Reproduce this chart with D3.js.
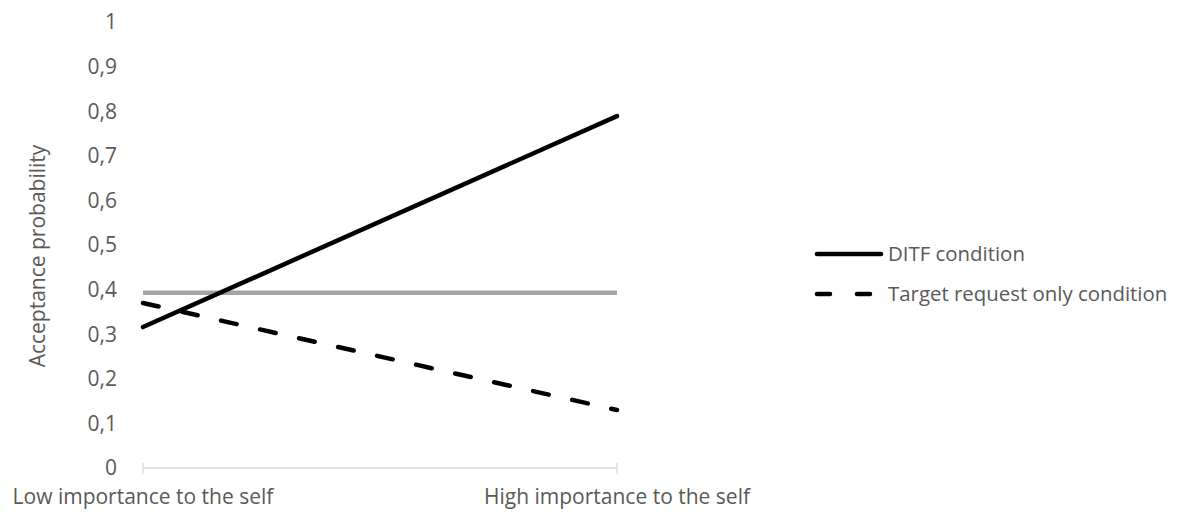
<!DOCTYPE html>
<html>
<head>
<meta charset="UTF-8">
<title>Acceptance probability</title>
<script src="https://cdn.jsdelivr.net/npm/d3@7"></script>
<style>
  body { margin: 0; background: #fff; }
  text { font-family: "Open Sans", sans-serif; fill: #595959; }
</style>
</head>
<body>
<div id="chart"></div>
<script>
// categories and series
var categories = ["Low importance to the self", "High importance to the self"];
var ditf = [0.316, 0.789];          // DITF condition
var targetOnly = [0.37, 0.13];      // Target request only condition
var baseline = [0.393, 0.393];      // grey reference line (no legend entry)
var yTicks = [0, 0.1, 0.2, 0.3, 0.4, 0.5, 0.6, 0.7, 0.8, 0.9, 1];
var legendNames = ["DITF condition", "Target request only condition"];

var W = 1191, H = 519;
var svg = d3.select("#chart").append("svg").attr("width", W).attr("height", H);

var x = d3.scalePoint().domain(categories).range([143, 617]);
var y = d3.scaleLinear().domain([0, 1]).range([468, 22]);

var loc = d3.formatLocale({decimal: ",", thousands: " ", grouping: [3], currency: ["", ""]});
var fmt = function (v) { return v === 0 || v === 1 ? String(v) : loc.format(".1f")(v); };

// y tick labels (no axis line)
svg.append("g").selectAll("text").data(yTicks).enter().append("text")
    .attr("x", 117).attr("y", function (d) { return y(d); })
    .attr("dy", "0.35em").attr("text-anchor", "end")
    .style("font-size", "21px")
    .text(fmt);

// x axis
var xAxis = svg.append("g");
xAxis.append("line").attr("x1", 143).attr("x2", 617).attr("y1", y(0)).attr("y2", y(0))
    .attr("stroke", "#d9d9d9").attr("stroke-width", 1.3);
xAxis.selectAll("line.tk").data(categories).enter().append("line").attr("class", "tk")
    .attr("x1", function (d) { return x(d); }).attr("x2", function (d) { return x(d); })
    .attr("y1", y(0) - 5).attr("y2", y(0) + 6)
    .attr("stroke", "#d9d9d9").attr("stroke-width", 1.3);
xAxis.selectAll("text").data(categories).enter().append("text")
    .attr("x", function (d) { return x(d); }).attr("y", 504)
    .attr("text-anchor", "middle").style("font-size", "21px")
    .text(function (d) { return d; });

// y axis title
svg.append("text").attr("transform", "translate(45,256) rotate(-90)")
    .attr("text-anchor", "middle").style("font-size", "21px")
    .text("Acceptance probability");

var line = d3.line().x(function (d, i) { return x(categories[i]); }).y(function (d) { return y(d); });

svg.append("path").datum(baseline).attr("d", line)
    .attr("fill", "none").attr("stroke", "#a5a5a5").attr("stroke-width", 4.5);
svg.append("path").datum(targetOnly).attr("d", line)
    .attr("fill", "none").attr("stroke", "#000").attr("stroke-width", 4.5)
    .attr("stroke-dasharray", "16,24").attr("stroke-linecap", "round");
svg.append("path").datum(ditf).attr("d", line)
    .attr("fill", "none").attr("stroke", "#000").attr("stroke-width", 4.5)
    .attr("stroke-linecap", "round");

// legend
var lg = svg.append("g");
var lgY = [254, 294];
lg.append("line").attr("x1", 817).attr("x2", 881).attr("y1", lgY[0]).attr("y2", lgY[0])
    .attr("stroke", "#000").attr("stroke-width", 4.5).attr("stroke-linecap", "round");
lg.append("line").attr("x1", 817).attr("x2", 881).attr("y1", lgY[1]).attr("y2", lgY[1])
    .attr("stroke", "#000").attr("stroke-width", 4.5).attr("stroke-linecap", "round")
    .attr("stroke-dasharray", "13,27");
lg.selectAll("text").data(legendNames).enter().append("text")
    .attr("x", 888).attr("y", function (d, i) { return lgY[i]; }).attr("dy", "0.35em")
    .style("font-size", "20.4px")
    .text(function (d) { return d; });
</script>
</body>
</html>
